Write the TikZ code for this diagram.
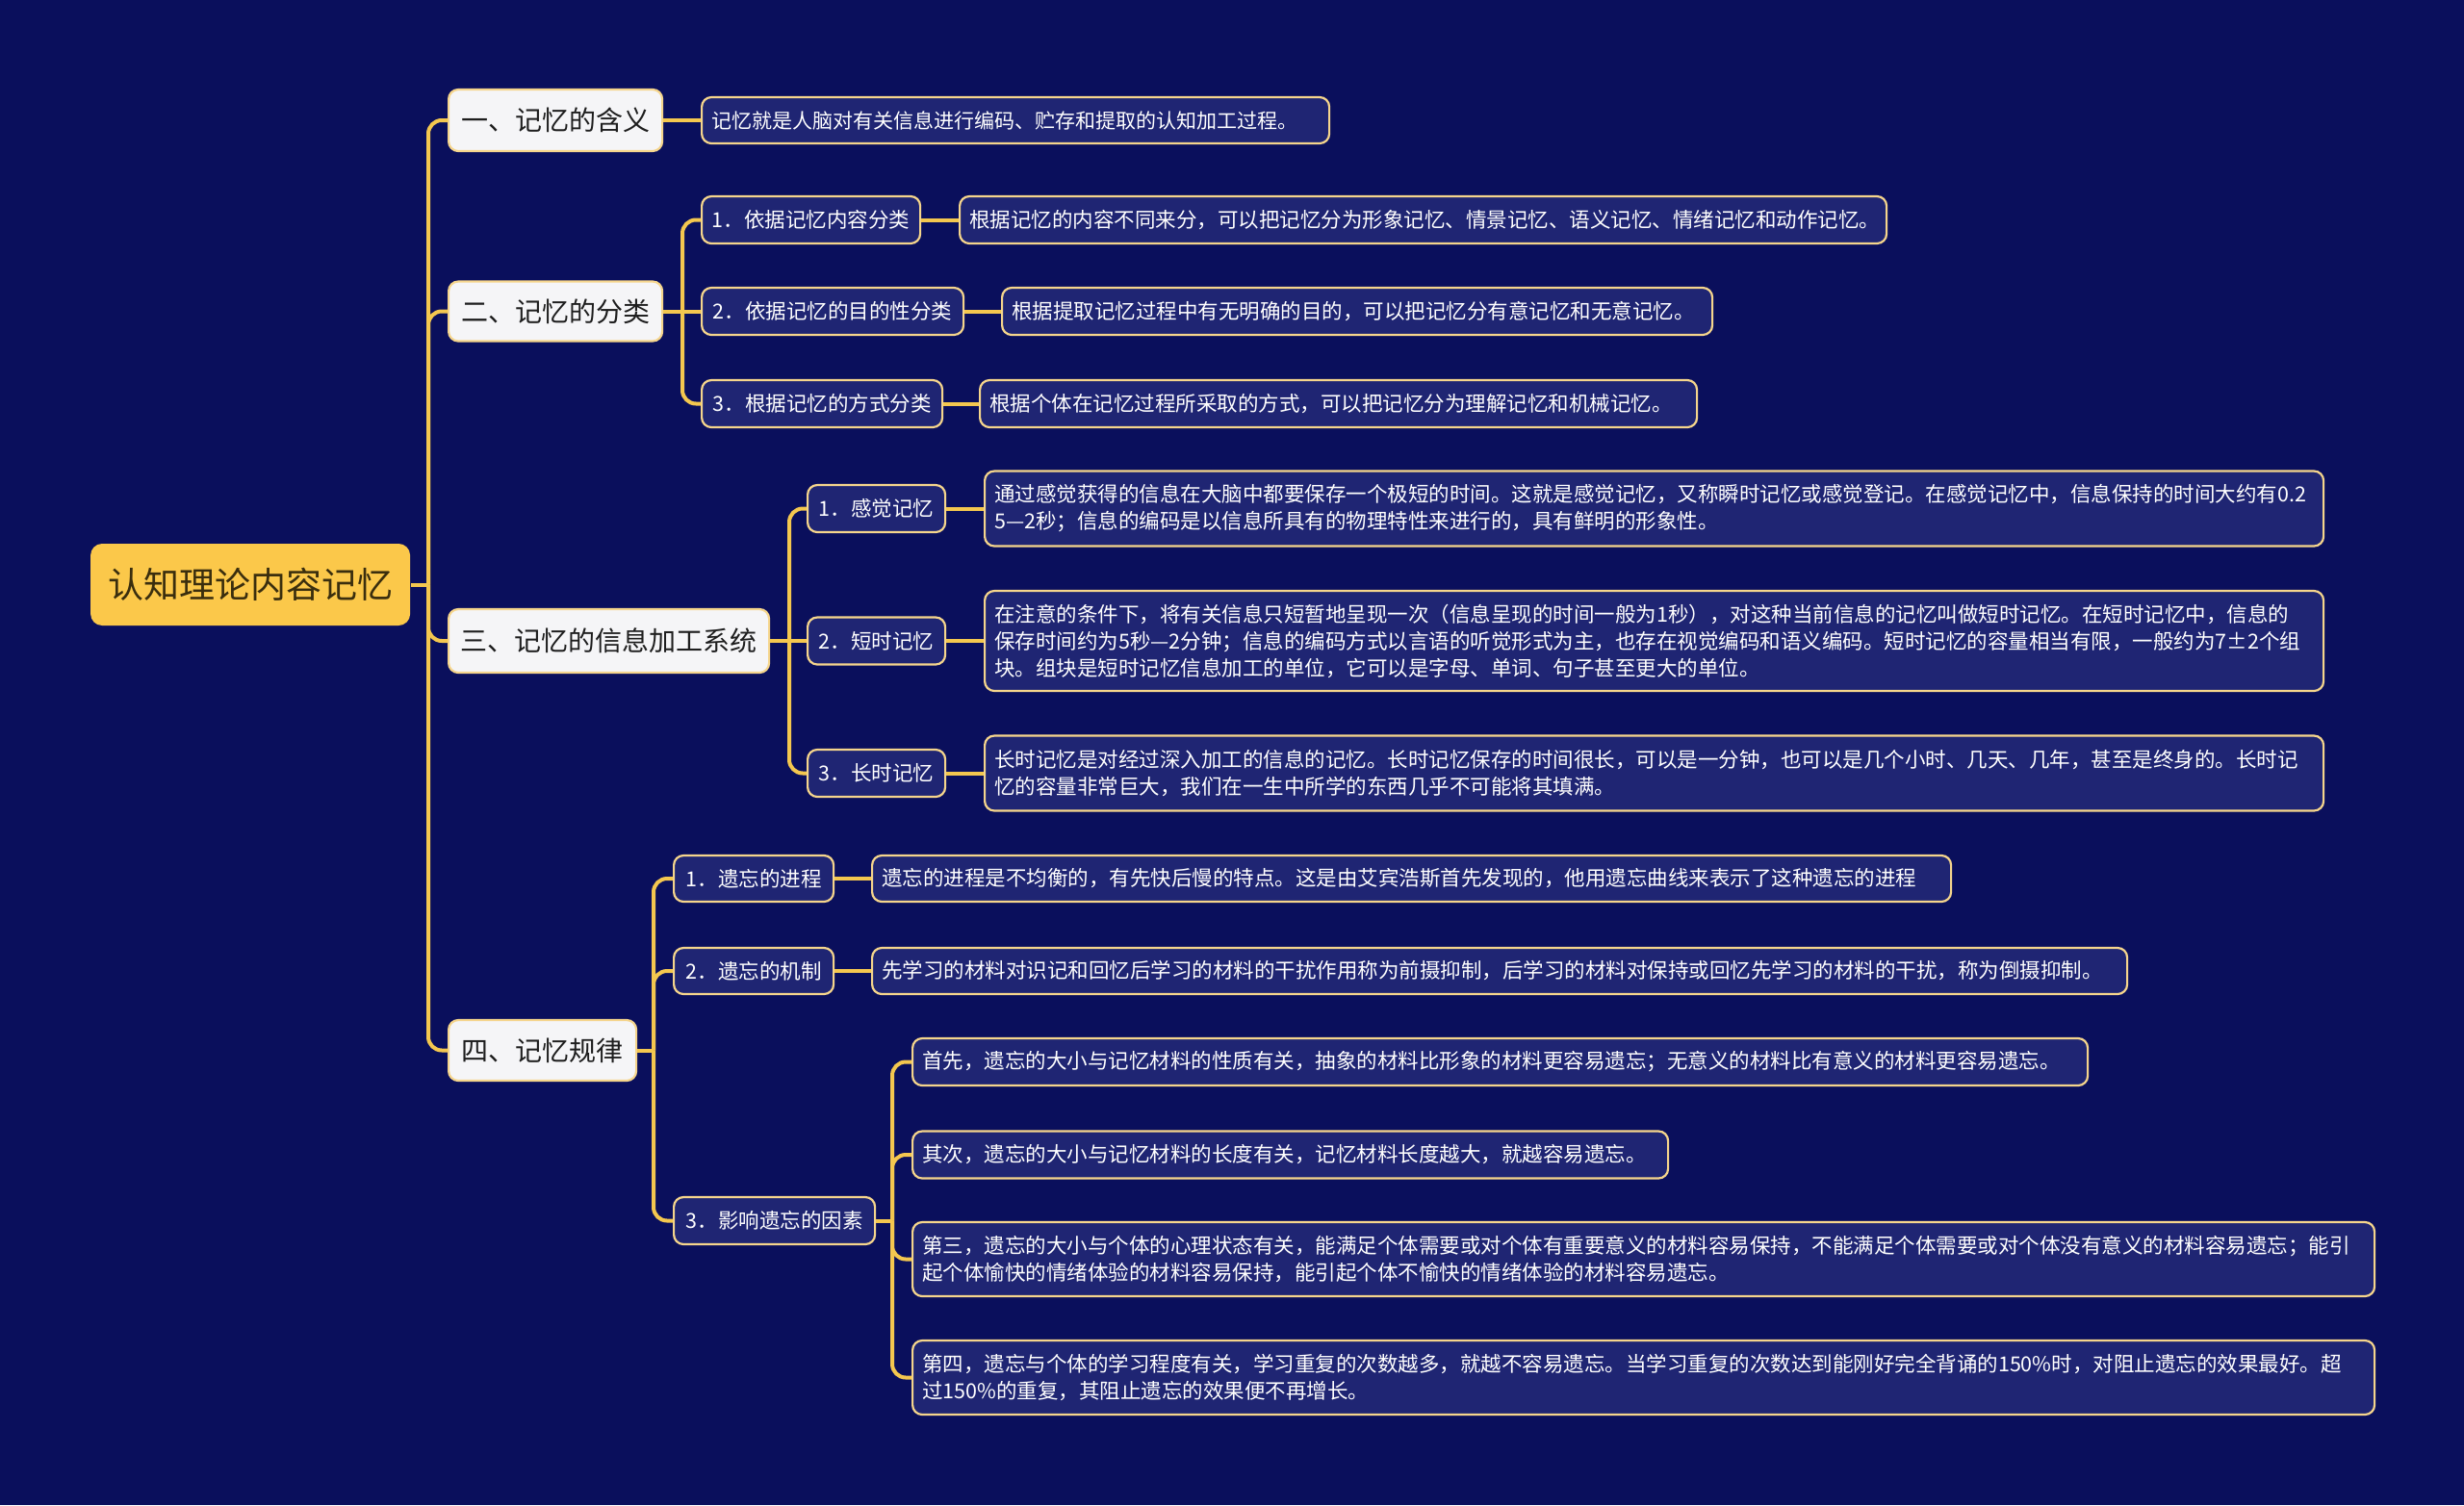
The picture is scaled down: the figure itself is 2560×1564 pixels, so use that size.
\documentclass[tikz,border=0pt]{standalone}
\usepackage{fontspec}
\setmainfont{Noto Sans CJK SC}
\definecolor{bgc}{HTML}{0A0F5C}
\definecolor{linegold}{HTML}{F4C74F}
\definecolor{bordergold}{HTML}{F5D58C}
\definecolor{leaffill}{HTML}{1F2573}
\definecolor{lonefill}{HTML}{F5F5F7}
\definecolor{rootfill}{HTML}{FBC84A}
\definecolor{darktext}{HTML}{1E1E1E}
\definecolor{roottext}{HTML}{3A2E0E}
\begin{document}
\begin{tikzpicture}[x=1pt,y=-1pt,
  conn/.style={draw=linegold, line width=4pt, rounded corners=14pt},
  box/.style={draw=bordergold, line width=2.2pt, rounded corners=10pt, anchor=west, inner sep=0pt, font=\fontsize{21.5}{28}\selectfont},
  leafn/.style={box, fill=leaffill, text=white, align=left, inner xsep=10pt},
  subn/.style={box, fill=leaffill, text=white, inner xsep=10pt},
  lonen/.style={box, fill=lonefill, text=darktext, font=\fontsize{28}{34}\selectfont},
  rootn/.style={box, draw=none, fill=rootfill, text=roottext, rounded corners=12pt, font=\fontsize{37}{44}\selectfont}
]
\fill[bgc] (0,0) rectangle (2560,1564);
\useasboundingbox (0,0) rectangle (2560,1564);

% root
\node[rootn, minimum width=332pt, minimum height=85pt] (root) at (93,607.5) {认知理论内容记忆};

% level 1
\node[lonen, minimum width=222pt, minimum height=64pt] (La) at (465,125) {一、记忆的含义};
\node[lonen, minimum width=222pt, minimum height=62pt] (Lb) at (465,323.5) {二、记忆的分类};
\node[lonen, minimum width=333pt, minimum height=66pt] (Lc) at (465,666) {三、记忆的信息加工系统};
\node[lonen, minimum width=195pt, minimum height=63pt] (Ld) at (465,1091.5) {四、记忆规律};

% branch A
\node[leafn, font=\fontsize{21}{28}\selectfont, text width=632pt, minimum height=48pt] (A1) at (728,125) {记忆就是人脑对有关信息进行编码、贮存和提取的认知加工过程。};

% branch B
\node[subn, minimum width=227pt, minimum height=49pt] (B1) at (728,228.5) {1．依据记忆内容分类};
\node[subn, minimum width=272pt, minimum height=49pt] (B2) at (728,323.5) {2．依据记忆的目的性分类};
\node[subn, minimum width=250pt, minimum height=49pt] (B3) at (728,419.5) {3．根据记忆的方式分类};
\node[leafn, text width=943pt, minimum height=49pt] (B1l) at (996,228.5) {根据记忆的内容不同来分，可以把记忆分为形象记忆、情景记忆、语义记忆、情绪记忆和动作记忆。};
\node[leafn, text width=718pt, minimum height=49pt] (B2l) at (1040,323.5) {根据提取记忆过程中有无明确的目的，可以把记忆分有意记忆和无意记忆。};
\node[leafn, text width=725pt, minimum height=49pt] (B3l) at (1017,419.5) {根据个体在记忆过程所采取的方式，可以把记忆分为理解记忆和机械记忆。};

% branch C
\node[subn, minimum width=143pt, minimum height=49pt] (C1) at (838,528.5) {1．感觉记忆};
\node[subn, minimum width=143pt, minimum height=49pt] (C2) at (838,666) {2．短时记忆};
\node[subn, minimum width=143pt, minimum height=49pt] (C3) at (838,803.5) {3．长时记忆};
\node[leafn, text width=1371pt, minimum height=78pt] (C1l) at (1022,528.5) {通过感觉获得的信息在大脑中都要保存一个极短的时间。这就是感觉记忆，又称瞬时记忆或感觉登记。在感觉记忆中，信息保持的时间大约有0.2\\5—2秒；信息的编码是以信息所具有的物理特性来进行的，具有鲜明的形象性。};
\node[leafn, text width=1371pt, minimum height=104pt] (C2l) at (1022,666) {在注意的条件下，将有关信息只短暂地呈现一次（信息呈现的时间一般为1秒），对这种当前信息的记忆叫做短时记忆。在短时记忆中，信息的\\保存时间约为5秒—2分钟；信息的编码方式以言语的听觉形式为主，也存在视觉编码和语义编码。短时记忆的容量相当有限，一般约为7±2个组\\块。组块是短时记忆信息加工的单位，它可以是字母、单词、句子甚至更大的单位。};
\node[leafn, text width=1371pt, minimum height=78pt] (C3l) at (1022,803.5) {长时记忆是对经过深入加工的信息的记忆。长时记忆保存的时间很长，可以是一分钟，也可以是几个小时、几天、几年，甚至是终身的。长时记\\忆的容量非常巨大，我们在一生中所学的东西几乎不可能将其填满。};

% branch D
\node[subn, minimum width=166pt, minimum height=48pt] (D1) at (699,913) {1．遗忘的进程};
\node[subn, minimum width=166pt, minimum height=48pt] (D2) at (699,1009) {2．遗忘的机制};
\node[subn, minimum width=209pt, minimum height=49pt] (D3) at (699,1268.5) {3．影响遗忘的因素};
\node[leafn, text width=1101pt, minimum height=48pt] (D1l) at (905,913) {遗忘的进程是不均衡的，有先快后慢的特点。这是由艾宾浩斯首先发现的，他用遗忘曲线来表示了这种遗忘的进程};
\node[leafn, text width=1284pt, minimum height=48pt] (D2l) at (905,1009) {先学习的材料对识记和回忆后学习的材料的干扰作用称为前摄抑制，后学习的材料对保持或回忆先学习的材料的干扰，称为倒摄抑制。};
\node[leafn, text width=1201pt, minimum height=49pt] (E1) at (947,1103.5) {首先，遗忘的大小与记忆材料的性质有关，抽象的材料比形象的材料更容易遗忘；无意义的材料比有意义的材料更容易遗忘。};
\node[leafn, text width=765pt, minimum height=49pt] (E2) at (947,1200) {其次，遗忘的大小与记忆材料的长度有关，记忆材料长度越大，就越容易遗忘。};
\node[leafn, text width=1499pt, minimum height=77pt] (E3) at (947,1308.5) {第三，遗忘的大小与个体的心理状态有关，能满足个体需要或对个体有重要意义的材料容易保持，不能满足个体需要或对个体没有意义的材料容易遗忘；能引\\起个体愉快的情绪体验的材料容易保持，能引起个体不愉快的情绪体验的材料容易遗忘。};
\node[leafn, text width=1499pt, minimum height=77pt] (E4) at (947,1431.5) {第四，遗忘与个体的学习程度有关，学习重复的次数越多，就越不容易遗忘。当学习重复的次数达到能刚好完全背诵的150\%时，对阻止遗忘的效果最好。超\\过150\%的重复，其阻止遗忘的效果便不再增长。};

% connectors
\coordinate (sA) at (445,607.5);
\coordinate (sB) at (709,323.5);
\coordinate (sC) at (820,666);
\coordinate (sD) at (679,1091.5);
\coordinate (sE) at (927,1268.5);

\draw[conn] (root.east) -- (sA);
\foreach \n in {La,Lb,Lc,Ld} \draw[conn] (sA) |- (\n.west);

\draw[conn] (La.east) -- (A1.west);

\draw[conn] (Lb.east) -- (sB);
\draw[conn] (sB) |- (B1.west);
\draw[conn] (sB) -- (B2.west);
\draw[conn] (sB) |- (B3.west);
\draw[conn] (B1.east) -- (B1l.west);
\draw[conn] (B2.east) -- (B2l.west);
\draw[conn] (B3.east) -- (B3l.west);

\draw[conn] (Lc.east) -- (sC);
\draw[conn] (sC) |- (C1.west);
\draw[conn] (sC) -- (C2.west);
\draw[conn] (sC) |- (C3.west);
\draw[conn] (C1.east) -- (C1l.west);
\draw[conn] (C2.east) -- (C2l.west);
\draw[conn] (C3.east) -- (C3l.west);

\draw[conn] (Ld.east) -- (sD);
\foreach \n in {D1,D2,D3} \draw[conn] (sD) |- (\n.west);
\draw[conn] (D1.east) -- (D1l.west);
\draw[conn] (D2.east) -- (D2l.west);

\draw[conn] (D3.east) -- (sE);
\foreach \n in {E1,E2,E3,E4} \draw[conn] (sE) |- (\n.west);
\end{tikzpicture}
\end{document}
